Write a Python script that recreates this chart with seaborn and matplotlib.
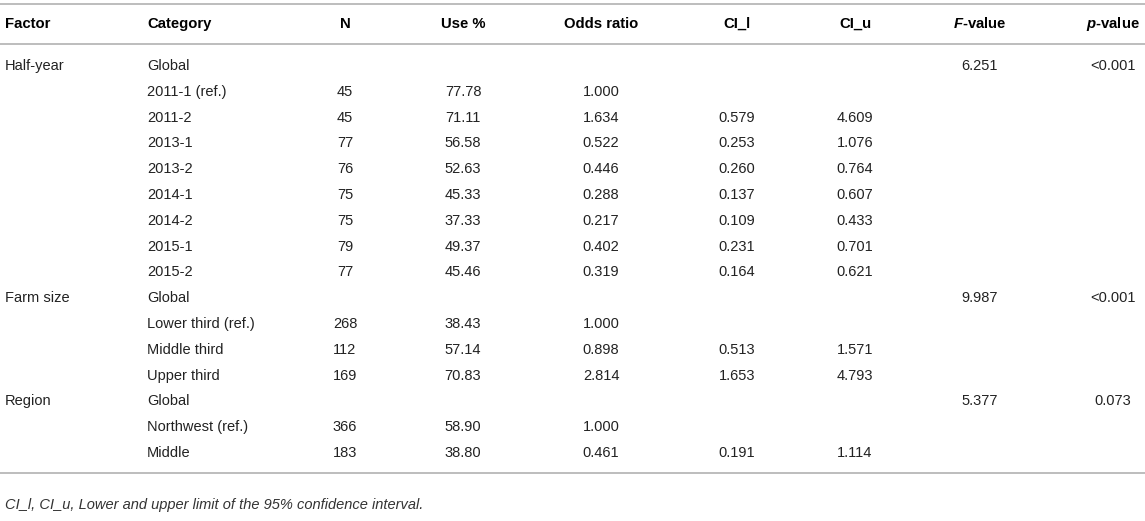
import matplotlib
matplotlib.use("Agg")
import matplotlib.pyplot as plt
import seaborn as sns
import numpy as np

# ---- data ----
factors = ["Half-year", "", "", "", "", "", "", "", "",
           "Farm size", "", "", "",
           "Region", "", ""]
categories = ["Global", "2011-1 (ref.)", "2011-2", "2013-1", "2013-2", "2014-1",
              "2014-2", "2015-1", "2015-2",
              "Global", "Lower third (ref.)", "Middle third", "Upper third",
              "Global", "Northwest (ref.)", "Middle"]
n_vals = [None, 45, 45, 77, 76, 75, 75, 79, 77, None, 268, 112, 169, None, 366, 183]
use_pct = [None, 77.78, 71.11, 56.58, 52.63, 45.33, 37.33, 49.37, 45.46,
           None, 38.43, 57.14, 70.83, None, 58.90, 38.80]
odds_ratio = [None, 1.000, 1.634, 0.522, 0.446, 0.288, 0.217, 0.402, 0.319,
              None, 1.000, 0.898, 2.814, None, 1.000, 0.461]
ci_l = [None, None, 0.579, 0.253, 0.260, 0.137, 0.109, 0.231, 0.164,
        None, None, 0.513, 1.653, None, None, 0.191]
ci_u = [None, None, 4.609, 1.076, 0.764, 0.607, 0.433, 0.701, 0.621,
        None, None, 1.571, 4.793, None, None, 1.114]
f_vals = [6.251, None, None, None, None, None, None, None, None,
          9.987, None, None, None, 5.377, None, None]
p_vals = ["<0.001", "", "", "", "", "", "", "", "",
          "<0.001", "", "", "", "0.073", "", ""]
headers = ["Factor", "Category", "N", "Use %", "Odds ratio", "CI_l", "CI_u",
           r"$\mathbfit{F}$-value", r"$\mathbfit{p}$-value"]
footnote = "CI_l, CI_u, Lower and upper limit of the 95% confidence interval."

# ---- style ----
sns.set_theme(style="white")
plt.rcParams["font.family"] = ["Liberation Sans", "DejaVu Sans"]
plt.rcParams["mathtext.fontset"] = "custom"
plt.rcParams["mathtext.rm"] = "Liberation Sans"
plt.rcParams["mathtext.it"] = "Liberation Sans:italic"
plt.rcParams["mathtext.bf"] = "Liberation Sans:bold"
plt.rcParams["mathtext.bfit"] = "Liberation Sans:italic:bold"

W, H = 1145, 521
fig = plt.figure(figsize=(W / 100, H / 100), dpi=100)
ax = fig.add_axes([0, 0, 1, 1])
ax.set_xlim(0, W)
ax.set_ylim(H, 0)
ax.axis("off")

fs = 10.5
hfs = 10.7
txt_color = "#222222"
line_color = "#bdbdbd"

col_x = [5, 147, 345, 463, 601, 737, 855, 980, 1113]
col_ha = ["left", "left"] + ["center"] * 7

header_y = 24
row0_y = 66
row_step = 25.8

# rules
for y in (4, 44, 473):
    ax.hlines(y, 0, W, color=line_color, lw=1.4)

for x, ha, h in zip(col_x, col_ha, headers):
    ax.text(x, header_y, h, ha=ha, va="center", fontsize=hfs,
            fontweight="bold", color="black")


def fmt(v, spec):
    if v is None or v == "":
        return ""
    if isinstance(v, str):
        return v
    return format(v, spec)


for i in range(len(categories)):
    y = row0_y + i * row_step
    cells = [factors[i], categories[i], fmt(n_vals[i], "d"), fmt(use_pct[i], ".2f"),
             fmt(odds_ratio[i], ".3f"), fmt(ci_l[i], ".3f"), fmt(ci_u[i], ".3f"),
             fmt(f_vals[i], ".3f"), p_vals[i]]
    for x, ha, c in zip(col_x, col_ha, cells):
        if c:
            ax.text(x, y, c, ha=ha, va="center", fontsize=fs, color=txt_color)

ax.text(5, 505, footnote, ha="left", va="center", fontsize=10.5,
        style="italic", color="#333333")

fig.savefig("out.png", dpi=100)
